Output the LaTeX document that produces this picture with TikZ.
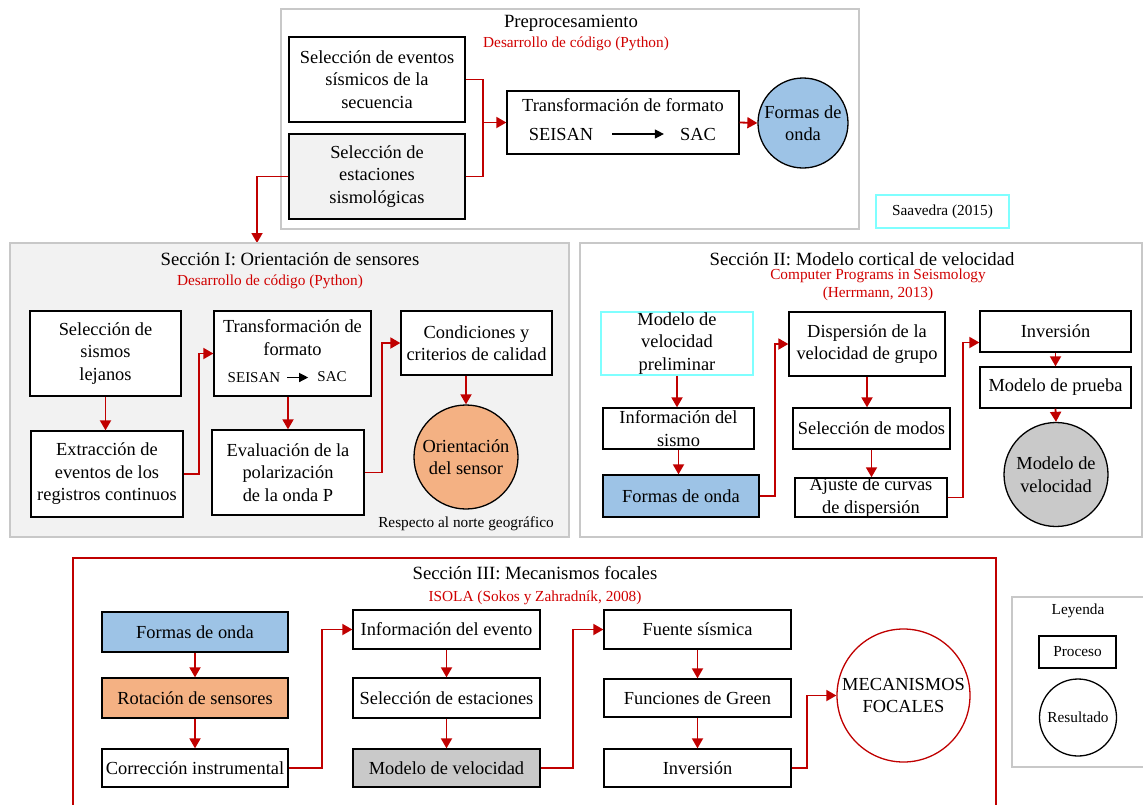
\documentclass[tikz,border=0pt]{standalone}
\usepackage{fontspec}
\setmainfont{Liberation Serif}
\usepackage{tikz}
\usetikzlibrary{calc,arrows.meta}

\definecolor{linkred}{HTML}{C00000}
\definecolor{textred}{HTML}{D00000}
\definecolor{framegray}{HTML}{C8C8C8}
\definecolor{panelgray}{HTML}{F2F2F2}
\definecolor{waveblue}{HTML}{9DC3E6}
\definecolor{sensorange}{HTML}{F4B183}
\definecolor{velgray}{HTML}{C9C9C9}
\definecolor{refcyan}{HTML}{7FFFFF}

\tikzset{
	proc/.style={draw=black, line width=1.3pt, fill=white},
	res/.style={circle, draw=black, line width=1.3pt},
	frame/.style={draw=framegray, line width=1.5pt},
	title/.style={font=\fontsize{18.7}{22}\selectfont},
	source/.style={text=textred, font=\fontsize{15.3}{18}\selectfont},
	small/.style={font=\fontsize{15.3}{18}\selectfont},
	link/.style={draw=linkred, line width=1.8pt, -{Triangle[length=10pt,width=11pt]}},
	fmt/.style={draw=black, line width=1.2pt, -{Triangle[length=9pt,width=9pt]}}
}

\begin{document}
\begin{tikzpicture}[x=1pt,y=-1pt,
	every node/.style={font=\fontsize{18.4}{22.5}\selectfont, align=center, inner sep=0pt}]

	\path[use as bounding box, clip] (0,0) rectangle (1143,804);

	% preprocesamiento
	\draw[frame] (281,9) rectangle (859,229);
	\node[title] (pretitle) at (571,23) {Preprocesamiento};
	\node[source] (presrc) at (576,44) {Desarrollo de código (Python)};
	\node[proc, minimum width=176pt, minimum height=85pt] (selev) at (377,79.5) {Selección de eventos\\sísmicos de la\\secuencia};
	\node[proc, fill=panelgray, minimum width=176pt, minimum height=85pt] (selest) at (377,176.5) {Selección de\\estaciones\\sismológicas};
	\node[proc, minimum width=232pt, minimum height=63pt] (transf) at (623,122.5) {};
	\node (transfname) at (623,105) {Transformación de formato};
	\node (seisanA) at (561,134) {SEISAN};
	\node (sacA) at (698,134) {SAC};
	\draw[fmt, shorten <=19pt, shorten >=16pt] (seisanA.east) -- (sacA.west);
	\node[res, fill=waveblue, minimum size=90pt] (ondaA) at (803,123) {Formas de\\onda};

	\draw[link] (selev.east) -- ++(17,0) |- (transf.west);
	\draw[link, -] (selest.east) -- ++(17,0) |- (transf.west);
	\draw[link] (transf.east) -- (ondaA.west);

	\coordinate (secItop) at (257,243);
	\draw[link] (selest.west) -| (secItop);

	\node[small, draw=refcyan, line width=1.2pt, minimum width=133pt, minimum height=33pt] (saav) at (942.5,211.5) {Saavedra (2015)};

	% seccion I
	\draw[frame, fill=panelgray] (10,243) rectangle (569,537);
	\node[title] (secItitle) at (290,259) {Sección I: Orientación de sensores};
	\node[source] (secIsrc) at (270,282) {Desarrollo de código (Python)};
	\node[proc, minimum width=151pt, minimum height=85pt] (lejanos) at (105.5,353.5) {Selección de\\sismos\\lejanos};
	\node[proc, minimum width=152pt, minimum height=86pt] (extrac) at (107,474) {Extracción de\\eventos de los\\registros continuos};
	\node[proc, minimum width=157pt, minimum height=85pt] (transfI) at (292.5,353.5) {};
	\node (transfIname) at (292.5,337.5) {Transformación de\\formato};
	\node[font=\fontsize{15}{18}\selectfont] (seisanI) at (254,377.5) {SEISAN};
	\node[font=\fontsize{15}{18}\selectfont] (sacI) at (332,376.5) {SAC};
	\draw[fmt, shorten <=7pt, shorten >=9pt] (seisanI.east) -- (sacI.west |- seisanI.east);
	\node[proc, minimum width=152pt, minimum height=85pt] (polar) at (288,472.5) {Evaluación de la\\polarización\\de la onda P};
	\node[proc, minimum width=151pt, minimum height=64pt] (calidad) at (476.5,343) {Condiciones y\\criterios de calidad};
	\node[res, fill=sensorange, minimum size=104pt] (orient) at (466,457) {Orientación\\del sensor};
	\node[small] (norte) at (466,524) {Respecto al norte geográfico};

	\draw[link] (lejanos.south) -- (lejanos.south |- extrac.north);
	\draw[link] (extrac.east) -- ++(15,0) |- (transfI.west);
	\draw[link] (transfI.south -| polar.north) -- (polar.north);
	\draw[link] (polar.east) -- ++(17,0) |- (calidad.west);
	\draw[link] (calidad.south -| orient.north) -- (orient.north);

	% seccion II
	\draw[frame, fill=white] (580,243) rectangle (1142,537);
	\node[title] (secIItitle) at (862,259) {Sección II: Modelo cortical de velocidad};
	\node[source] (secIIsrc) at (878,285) {Computer Programs in Seismology\\(Herrmann, 2013)};
	\node[proc, draw=refcyan, minimum width=152pt, minimum height=63pt] (prelim) at (677,343.5) {Modelo de\\velocidad\\preliminar};
	\node[proc, minimum width=151pt, minimum height=41pt] (infsismo) at (678.5,428.5) {Información del\\sismo};
	\node[proc, fill=waveblue, minimum width=156pt, minimum height=42pt] (ondaII) at (681,496) {Formas de onda};
	\node[proc, minimum width=156pt, minimum height=64pt] (dispers) at (867,344) {Dispersión de la\\velocidad de grupo};
	\node[proc, minimum width=157pt, minimum height=41pt] (modos) at (871.5,428.5) {Selección de modos};
	\node[proc, minimum width=152pt, minimum height=39pt] (ajuste) at (871,497.5) {Ajuste de curvas\\de dispersión};
	\node[proc, minimum width=151pt, minimum height=41pt] (invII) at (1055.5,331.5) {Inversión};
	\node[proc, minimum width=151pt, minimum height=41pt] (prueba) at (1055.5,387.5) {Modelo de prueba};
	\node[res, fill=velgray, minimum size=104pt] (modvel) at (1056,474.5) {Modelo de\\velocidad};

	\draw[link] (prelim.south) -- (prelim.south |- infsismo.north);
	\draw[link] (infsismo.south) -- (infsismo.south |- ondaII.north);
	\draw[link] (ondaII.east) -- ++(15,0) |- (dispers.west);
	\draw[link] (dispers.south) -- (dispers.south |- modos.north);
	\draw[link] (modos.south) -- (modos.south |- ajuste.north);
	\draw[link] (ajuste.east) -- ++(15,0) |- ($(invII.west)+(0,11)$);
	\draw[link] (invII.south) -- (prueba.north);
	\draw[link] (prueba.south) -- (modvel.north);

	% seccion III
	\draw[draw=linkred, line width=1.5pt] (73,558) rectangle (996,812);
	\node[title] (secIIItitle) at (535,573) {Sección III: Mecanismos focales};
	\node[source] (secIIIsrc) at (535,598) {ISOLA (Sokos y Zahradník, 2008)};
	\node[proc, fill=waveblue, minimum width=186pt, minimum height=40pt] (ondaIII) at (195,632) {Formas de onda};
	\node[proc, fill=sensorange, minimum width=186pt, minimum height=40pt] (rotac) at (195,698) {Rotación de sensores};
	\node[proc, minimum width=186pt, minimum height=38pt] (correc) at (195,768) {Corrección instrumental};
	\node[proc, minimum width=187pt, minimum height=39pt] (infevento) at (446.5,629.5) {Información del evento};
	\node[proc, minimum width=187pt, minimum height=40pt] (selestac) at (446.5,698) {Selección de estaciones};
	\node[proc, fill=velgray, minimum width=187pt, minimum height=38pt] (modvelIII) at (446.5,768) {Modelo de velocidad};
	\node[proc, minimum width=187pt, minimum height=39pt] (fuente) at (697.5,629.5) {Fuente sísmica};
	\node[proc, minimum width=187pt, minimum height=38pt] (green) at (697.5,698) {Funciones de Green};
	\node[proc, minimum width=187pt, minimum height=38pt] (invIII) at (697.5,768) {Inversión};
	\node[res, draw=linkred, fill=white, minimum size=133pt] (mecan) at (903.5,695.5) {MECANISMOS\\FOCALES};

	\draw[link] (ondaIII) -- (rotac);
	\draw[link] (rotac) -- (correc);
	\draw[link] (correc.east) -- ++(33,0) |- (infevento.west);
	\draw[link] (infevento) -- (selestac);
	\draw[link] (selestac) -- (modvelIII);
	\draw[link] (modvelIII.east) -- ++(32,0) |- (fuente.west);
	\draw[link] (fuente) -- (green);
	\draw[link] (green) -- (invIII);
	\draw[link] (invIII.east) -- ++(15,0) |- (mecan.west);

	% leyenda
	\draw[frame] (1012,597) rectangle (1150,767);
	\node[small] (legtitle) at (1078,611) {Leyenda};
	\node[proc, small, minimum width=77pt, minimum height=32pt] (legproc) at (1077.5,652) {Proceso};
	\node[res, small, minimum size=77pt] (legres) at (1078,717.5) {Resultado};
\end{tikzpicture}
\end{document}
